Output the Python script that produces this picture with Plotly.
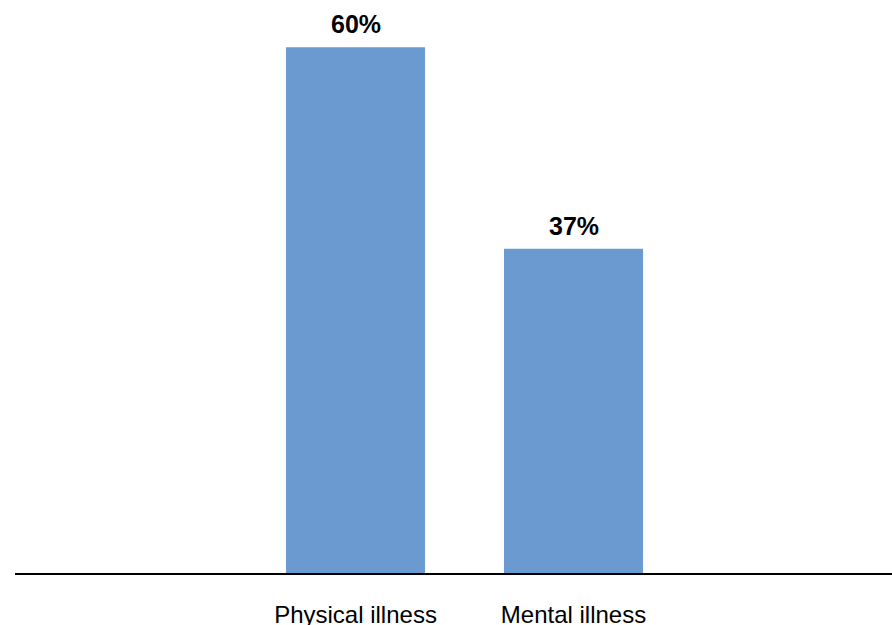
import plotly.graph_objects as go

categories = ["Physical illness", "Mental illness"]
values = [60, 37]
value_labels = ["60%", "37%"]

bar_color = "#6A9AD0"
font_family = "Liberation Sans, Arial, sans-serif"

fig = go.Figure(
    go.Bar(
        x=categories,
        y=values,
        width=0.638,
        marker=dict(color=bar_color, line=dict(width=0)),
        hoverinfo="skip",
    )
)

# Bold value labels sitting above each bar
for cat, val, lab in zip(categories, values, value_labels):
    fig.add_annotation(
        x=cat, y=val, text=f"<b>{lab}</b>",
        showarrow=False, yanchor="middle", yshift=23,
        font=dict(family=font_family, size=25, color="#000000"),
    )

fig.update_layout(
    width=892, height=625,
    margin=dict(l=15, r=0, t=0, b=52),
    paper_bgcolor="white", plot_bgcolor="white",
    showlegend=False,
    font=dict(family=font_family, size=24, color="#000000"),
    xaxis=dict(
        type="category",
        range=[-1.562, 2.461],
        automargin=False,
        showline=True, linecolor="#000000", linewidth=2,
        showgrid=False, zeroline=False,
        ticks="outside", ticklen=19, tickcolor="rgba(0,0,0,0)",
        tickfont=dict(family=font_family, size=24, color="#000000"),
    ),
    yaxis=dict(
        range=[0, 65.4],
        automargin=False,
        visible=False, showgrid=False, zeroline=False,
    ),
)

fig.write_html("out.html")
